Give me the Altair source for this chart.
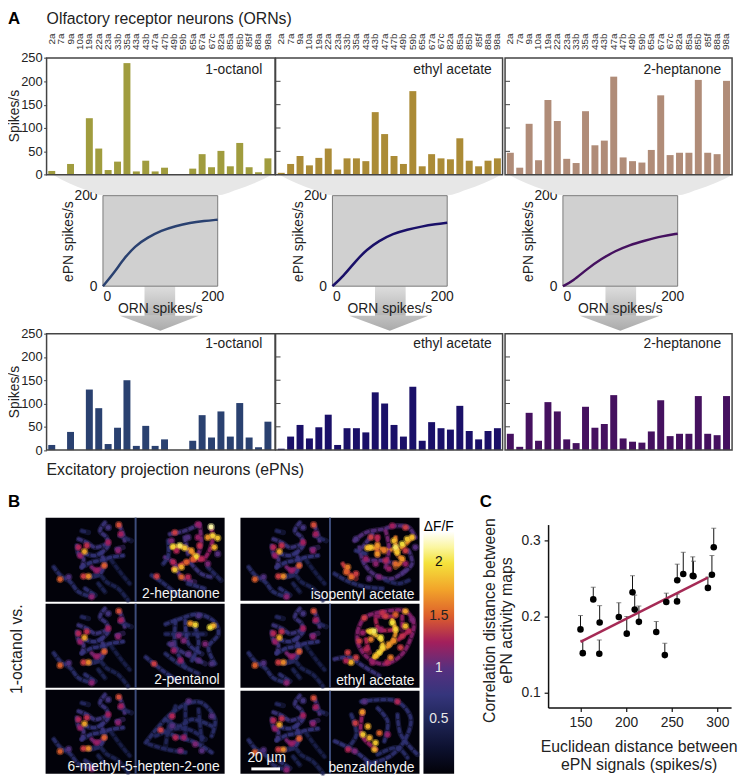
import altair as alt
import pandas as pd

FONT = "Liberation Sans"
W, H = 739, 772
ORN = "2a 7a 9a 10a 19a 22a 23a 33b 35a 43a 43b 47a 47b 49b 59b 65a 67a 67c 82a 85a 85b 85f 88a 98a".split()
ORN_OCT = [8, 0, 23, 0, 121, 56, 10, 28, 239, 7, 30, 7, 15, 1.5, 0, 13, 44, 16, 51, 18, 68, 16, 5, 35]
ORN_ETH = [4, 23, 40, 20, 36, 56, 11, 35, 35, 29, 134, 87, 40, 23, 179, 18, 44, 35, 33, 78, 30, 18, 30, 35]
ORN_HEP = [47, 15, 109, 31, 160, 115, 34, 25, 136, 63, 73, 210, 37, 29, 26, 53, 170, 42, 47, 47, 203, 47, 44, 201]
EPN_OCT = [11, 0, 39, 0, 130, 90, 13, 48, 150, 9, 52, 9, 23, 0, 0, 20, 75, 27, 83, 29, 101, 27, 6, 61]
EPN_ETH = [3, 29, 54, 25, 49, 76, 11, 47, 47, 38, 124, 100, 54, 29, 136, 20, 60, 47, 44, 95, 41, 23, 41, 47]
EPN_HEP = [35, 7, 80, 20, 103, 83, 23, 15, 93, 48, 56, 118, 25, 18, 16, 40, 107, 30, 35, 35, 116, 35, 32, 116]
ODORS = ["1-octanol", "ethyl acetate", "2-heptanone"]
ORN_COLORS = ["#a09c3e", "#ab8b36", "#b08c78"]
EPN_COLORS = ["#2a4170", "#1a1068", "#45115f"]

CURVE_X = [[0, 20, 39, 59, 81, 107, 133, 159, 185, 210],
           [0, 20, 42, 63, 85, 111, 137, 163, 189, 210],
           [0, 18, 44, 70, 96, 122, 148, 183, 210]]
CURVE_Y = [[0, 29, 62, 89, 107, 123, 133, 140, 144, 147],
           [0, 22, 55, 81, 100, 116, 125, 132, 137, 140],
           [0, 11, 38, 60, 78, 91, 100, 111, 116]]

C_X = [150, 152.5, 164, 170.6, 171, 192, 200.7, 207, 209.4, 214, 233, 242.4, 244, 255.8, 256, 262.6, 273, 273.8, 289.6, 294, 296]
C_Y = [.1827, .1515, .2221, .1506, .1918, .1991, .1771, .2316, .2087, .1926, .1792, .1489, .2186, .2195, .2472, .2554, .2532, .2524, .2372, .2545, .2905]
C_E = [.2009, .1684, .2381, .1688, .2139, .2177, .1996, .2532, .2277, .2134, .1931, .1645, .2303, .229, .2684, .284, .278, .2723, .2515, .2797, .3156]
FIT_X = [150, 289.5]
FIT_Y = [.1662, .2506]

CMAP_V = [0, .25, .5, .75, 1, 1.25, 1.5, 1.75, 2, 2.15, 2.3]
CMAP_C = ["#020208", "#0d1130", "#1f2556", "#35357c", "#57307f", "#a31f5c", "#dd5f2c", "#f2a42a", "#f4e23c", "#fbf6a0", "#ffffff"]
HEAT = alt.Scale(domain=CMAP_V, range=CMAP_C, clamp=True)

OCT_LINES = [(.8, [180, 15, 165, 40, 185, 60, 190, 85, 170, 110, 180, 135, 165, 170, 135, 180]),
             (.9, [225, 25, 235, 50, 240, 70]),
             (.6, [110, 40, 130, 45]),
             (.8, [100, 65, 125, 75, 150, 90, 185, 80]),
             (.85, [95, 85, 100, 110, 115, 125, 110, 150]),
             (.75, [110, 150, 140, 135, 165, 130, 200, 120, 235, 115]),
             (.65, [25, 150, 45, 175, 75, 195, 100, 225, 140, 240]),
             (.5, [130, 180, 165, 175, 185, 195, 220, 215, 250, 250]),
             (.9, [215, 95, 235, 90]),
             (1.1, [140, 150, 155, 160, 180, 145]),
             (.5, [160, 200, 180, 225]),
             (.45, [200, 130, 230, 170, 255, 200]),
             (.6, [225, 55, 260, 70]),
             (.75, [120, 110, 150, 115, 170, 105]),
             (.7, [120, 215, 150, 235])]
OCT_BLOBS = [(118, 103, 1.75), (100, 90, 1.3), (125, 85, 1.35), (222, 22, 1.45), (228, 50, 1.25), (178, 145, 1.5),
             (130, 178, 1.65), (115, 178, 1.4), (44, 187, 1.5), (190, 75, 1.25), (140, 240, 1.15), (220, 100, 1.15),
             (155, 160, 1.2), (105, 115, 1.2), (70, 180, .95), (190, 30, .85)]
HEP_LINES = [(.85, [375, 50, 420, 40, 465, 20]),
             (1.1, [465, 20, 470, 75, 460, 115]),
             (1.6, [380, 90, 420, 90, 455, 118]),
             (1.35, [385, 155, 425, 135, 475, 125]),
             (1.0, [360, 120, 385, 135, 410, 180, 450, 195]),
             (.65, [320, 175, 350, 195, 400, 235]),
             (.6, [490, 150, 530, 190]),
             (.8, [440, 140, 470, 170, 500, 180]),
             (1.2, [500, 30, 505, 60, 495, 100, 480, 125]),
             (.7, [370, 70, 370, 115, 355, 140]),
             (.9, [420, 60, 430, 110]),
             (.7, [430, 200, 480, 215])]
HEP_BLOBS = [(500, 28, 2.25), (505, 55, 1.95), (520, 62, 1.9), (490, 60, 1.7), (510, 90, 1.8), (385, 88, 1.95),
             (405, 85, 2.05), (420, 92, 1.9), (440, 100, 1.7), (455, 118, 1.95), (390, 158, 1.9), (410, 150, 1.8),
             (425, 135, 1.5), (445, 125, 1.5), (470, 125, 1.3), (465, 85, 1.35), (460, 60, 1.2), (390, 45, 1.4),
             (395, 100, 1.3), (385, 135, 1.3), (410, 180, 1.5), (430, 180, 1.3), (335, 178, 1.4), (490, 140, 1.1),
             (380, 70, 1.1), (460, 20, 1.2), (430, 60, .95), (520, 110, 1.0)]
PEN_LINES = [(.7, [500, 410, 540, 395, 600, 380, 650, 405, 660, 440, 630, 480, 650, 530]),
             (.8, [510, 470, 560, 500, 620, 530]),
             (.7, [530, 400, 530, 480, 560, 540]),
             (.7, [440, 510, 490, 550, 540, 585]),
             (.7, [590, 420, 600, 470, 580, 520]),
             (.6, [500, 440, 560, 440, 620, 440]),
             (.75, [560, 400, 570, 470, 610, 500]),
             (.65, [500, 500, 540, 530, 600, 560])]
PEN_BLOBS = [(590, 412, 1.95), (575, 408, 1.7), (635, 420, 2), (645, 415, 1.8), (465, 530, 1.4), (545, 520, 1.2),
             (540, 445, 1.1), (525, 490, 1.2), (620, 470, 1.1), (600, 520, 1.0), (555, 460, 1.1), (600, 385, .9),
             (520, 470, 1.0), (570, 500, 1.0), (640, 530, .9)]
MET_LINES = [(.65, [440, 770, 480, 720, 520, 680, 570, 650, 610, 650, 650, 700, 640, 750]),
             (.7, [480, 730, 530, 750, 590, 770, 640, 800]),
             (.6, [450, 775, 500, 790, 560, 800]),
             (.65, [500, 700, 540, 720, 580, 700, 640, 720]),
             (.6, [560, 660, 560, 760]),
             (.6, [600, 670, 610, 770]),
             (.6, [470, 750, 520, 730, 570, 730, 620, 760]),
             (.55, [530, 660, 510, 720, 500, 780])]
MET_BLOBS = [(485, 732, 1.4), (520, 690, 1.3), (530, 755, 1.3), (555, 755, 1.2), (590, 775, 1.1), (520, 720, 1),
             (640, 690, 1), (570, 645, 1), (545, 795, 1.1), (610, 795, 1.0)]
ISO_LINES = [(1.0, [345, 70, 380, 45, 430, 35, 470, 25, 510, 30, 530, 60]),
             (1.65, [385, 90, 430, 95, 480, 95, 520, 60]),
             (1.4, [415, 60, 415, 115]),
             (1.6, [470, 60, 475, 110, 490, 130, 470, 150]),
             (.95, [360, 90, 375, 140, 410, 175, 460, 185, 500, 160]),
             (1.1, [440, 40, 450, 90, 440, 150]),
             (1.4, [310, 140, 330, 170, 350, 185]),
             (.65, [285, 170, 330, 195, 380, 210, 430, 215]),
             (1.0, [380, 130, 430, 130, 470, 140]),
             (.9, [510, 100, 520, 140, 490, 170]),
             (.9, [400, 50, 370, 90]),
             (.75, [350, 100, 380, 110]),
             (.6, [440, 190, 480, 200, 510, 190])]
ISO_BLOBS = [(470, 90, 2.05), (490, 80, 2), (505, 65, 1.9), (520, 60, 1.85), (465, 70, 1.85), (475, 105, 1.9),
             (395, 90, 1.9), (385, 92, 1.85), (415, 85, 1.7), (415, 110, 1.7), (435, 100, 1.6), (490, 125, 1.7),
             (470, 140, 1.55), (500, 100, 1.4), (415, 60, 1.3), (395, 60, 1.4), (500, 30, 1.4), (460, 25, 1.25),
             (325, 150, 1.6), (320, 165, 1.5), (335, 180, 1.55), (350, 170, 1.4), (380, 125, 1.2), (410, 140, 1.15),
             (440, 130, 1.3), (450, 155, 1.2), (350, 65, .9), (420, 180, 1.1), (390, 185, 1.0), (500, 140, 1.2),
             (530, 90, 1.0)]
ETH_LINES = [(1.15, [355, 345, 375, 305, 440, 285, 500, 285, 525, 320, 515, 370, 485, 420, 435, 445, 385, 425, 355, 380, 355, 345]),
             (1.85, [385, 345, 425, 370, 430, 400, 405, 425]),
             (1.7, [460, 310, 470, 350, 450, 390, 430, 400]),
             (1.3, [410, 310, 420, 340, 470, 340]),
             (.8, [285, 430, 330, 425, 370, 450, 420, 480]),
             (1.3, [380, 370, 390, 410]),
             (1.3, [480, 370, 510, 345]),
             (1.2, [410, 300, 470, 300]),
             (1.2, [490, 300, 490, 340])]
ETH_BLOBS = [(405, 345, 2.05), (395, 345, 1.95), (425, 365, 2), (460, 320, 2.0), (470, 340, 1.95), (500, 330, 1.85),
             (430, 395, 1.95), (410, 420, 1.85), (420, 410, 1.95), (450, 385, 1.7), (500, 285, 1.75), (335, 440, 1.8),
             (455, 425, 1.6), (465, 375, 1.65), (395, 370, 1.6), (470, 295, 1.5), (360, 375, 1.4), (440, 300, 1.4),
             (510, 345, 1.3), (375, 305, 1.4), (325, 410, 1.4), (350, 425, 1.4), (485, 395, 1.4), (430, 290, 1.35),
             (425, 340, 1.2), (380, 400, 1.3), (490, 360, 1.35), (370, 350, 1.2), (445, 440, 1.3), (400, 440, 1.2),
             (320, 435, 1.3), (520, 310, 1.1)]
BEN_LINES = [(.7, [390, 600, 430, 595, 500, 600, 540, 650, 520, 720, 470, 770, 400, 790]),
             (.75, [310, 720, 370, 750, 420, 790]),
             (1.2, [395, 630, 390, 700, 435, 745]),
             (.7, [440, 620, 470, 660, 460, 720]),
             (.7, [500, 640, 510, 700, 560, 760]),
             (.65, [360, 640, 375, 700, 350, 740]),
             (.65, [440, 760, 500, 740, 530, 770])]
BEN_BLOBS = [(393, 632, 1.7), (410, 675, 1.8), (395, 700, 1.9), (415, 710, 1.8), (433, 725, 1.9), (430, 745, 1.8),
             (372, 665, 1.4), (445, 695, 1.5), (500, 600, 1.3), (350, 745, 1.3), (470, 700, 1.2), (370, 750, 1.1),
             (400, 600, 1.0)]


def X(field, lo, hi, dlo=None, dhi=None, **kw):
    return alt.X(field, scale=alt.Scale(domain=[lo if dlo is None else dlo, hi if dhi is None else dhi], range=[lo - 8, hi - 8]), **kw)


def Y(field, lo, hi, dlo=None, dhi=None, **kw):
    return alt.Y(field, scale=alt.Scale(domain=[lo if dlo is None else dlo, hi if dhi is None else dhi], range=[lo - 8, hi - 8]), **kw)


ONE = pd.DataFrame({"a": [0]})


def text(s, x, y, size, color="#222222", align="left", angle=0, weight="normal"):
    return alt.Chart(ONE).mark_text(text=s, font=FONT, fontSize=size, color=color, align=align, baseline="middle",
                                    angle=angle, fontWeight=weight).encode(x=alt.value(x - 8), y=alt.value(y - 8))


def rect(x0, x1, y0, y1, **kw):
    return alt.Chart(ONE).mark_rect(**kw).encode(x=alt.value(x0 - 8), x2=alt.value(x1 - 8), y=alt.value(y0 - 8), y2=alt.value(y1 - 8))


def poly(xs, ys, y2s, **kw):
    df = pd.DataFrame({"x": xs, "y": ys, "y2": y2s})
    return alt.Chart(df).mark_area(**kw).encode(
        X("x:Q", 0, W + 8, 0, W + 8, axis=None), Y("y:Q", 0, H + 8, 0, H + 8, axis=None), y2="y2:Q")


layers = []

# grey funnels and arrows between rows
for (l, bl, br, r) in [(53, 104, 220, 275), (282, 336, 452, 507), (514, 569, 685, 741)]:
    xs = [l, l + (bl - l) * .33, l + (bl - l) * .65, bl, br, br + (r - br) * .35, br + (r - br) * .67, r]
    y2 = [172, 181, 187.5, 193, 193, 187.5, 181, 172]
    layers.append(poly(xs, [172] * 8, y2, color="#e7e7e7", interpolate="monotone"))

grad = alt.Gradient(gradient="linear", x1=0, x2=0, y1=0, y2=1,
                    stops=[alt.GradientStop(color="#dedede", offset=0), alt.GradientStop(color="#b4b4b4", offset=1)])
grad2 = alt.Gradient(gradient="linear", x1=0, x2=0, y1=0, y2=1,
                     stops=[alt.GradientStop(color="#c0c0c0", offset=0), alt.GradientStop(color="#aaaaaa", offset=1)])
for (s0, s1, h0, hm, h1) in [(146, 177, 121, 162, 201), (379, 410, 353, 394, 433), (612, 643, 586, 627, 667)]:
    layers.append(rect(s0, s1, 285, 315, color=grad))
    layers.append(poly([h0, hm, h1], [315, 315, 315], [315, 330, 315], color=grad2))


def bars(vals, color, xr, yr, label_axis, y_axis):
    df = pd.DataFrame({"orn": ORN, "v": vals})
    xaxis = alt.Axis(orient="top", offset=-21, domain=False, ticks=False, labelAngle=270, labelAlign="right",
                     labelBaseline="middle", labelFont=FONT, labelFontSize=10, labelColor="#333333", labelPadding=0,
                     labelOverlap=False, title=None) if label_axis else None
    yaxis = alt.Axis(orient="left", values=[0, 50, 100, 150, 200, 250], offset=-(47 - 8), domain=False, tickSize=3, tickColor="#444444",
                     labelFont=FONT, labelFontSize=13, labelColor="#222222", labelPadding=1.5, grid=False, title=None,
                     labelOverlap=False) if y_axis else None
    return alt.Chart(df).mark_bar(color=color).encode(
        x=alt.X("orn:N", sort=ORN, axis=xaxis,
                scale=alt.Scale(domain=ORN, range=[xr[0] - 8, xr[1] - 8], paddingInner=.26, paddingOuter=.18)),
        y=alt.Y("v:Q", axis=yaxis, scale=alt.Scale(domain=[0, 250], range=[yr[0] - 8, yr[1] - 8])))


FRAMES = [(47, 278), (278.5, 508), (510.5, 740)]
XR = [(47, 276), (279, 508), (510.6, 739.6)]
LABEL_R = [265, 497, 729]
for row, (series, colors, yr, axis_on, ty) in enumerate([
    ([ORN_OCT, ORN_ETH, ORN_HEP], ORN_COLORS, (172.3, 54.3), True, 66),
    ([EPN_OCT, EPN_ETH, EPN_HEP], EPN_COLORS, (450.7, 333), False, 344),
]):
    for i in range(3):
        layers.append(bars(series[i], colors[i], XR[i], yr, axis_on, i == 0))
        layers.append(rect(FRAMES[i][0], FRAMES[i][1], yr[1], yr[0], fillOpacity=0, stroke="#444444", strokeWidth=1.5))
        layers.append(text(ODORS[i], LABEL_R[i], ty, 14, align="right"))
        if i > 0:
            dft = pd.DataFrame({"v": [50, 100, 150, 200]})
            layers.append(alt.Chart(dft).mark_rule(color="#444444", strokeWidth=1).encode(
                x=alt.value(FRAMES[i][0] - 8), x2=alt.value(FRAMES[i][0] - 8 + 5),
                y=alt.Y("v:Q", axis=None, scale=alt.Scale(domain=[0, 250], range=[yr[0] - 8, yr[1] - 8]))))

# transfer-function boxes
for i, (x0, x1) in enumerate([(104, 220), (336, 452), (569, 685)]):
    layers.append(rect(x0, x1, 193.5, 285, color="#d0d0d0", stroke="#7a7a7a", strokeWidth=1))
    df = pd.DataFrame({"x": CURVE_X[i], "y": CURVE_Y[i]})
    xa = alt.Axis(values=[0, 200], orient="bottom", offset=-(H - (285 - 8)), domain=False, ticks=False, labelFont=FONT, labelFontSize=14,
                  labelColor="#222222", labelPadding=3, grid=False, title=None)
    ya = alt.Axis(values=[0, 200], orient="left", offset=-(x0 - 8), domain=False, ticks=False, labelFont=FONT, labelFontSize=14,
                  labelColor="#222222", labelPadding=6, grid=False, title=None)
    layers.append(alt.Chart(df).mark_line(color=EPN_COLORS[i], strokeWidth=2.5, interpolate="basis").encode(
        x=alt.X("x:Q", axis=xa, scale=alt.Scale(domain=[0, 210], range=[x0 - 8, x1 - 8])),
        y=alt.Y("y:Q", axis=ya, scale=alt.Scale(domain=[0, 200], range=[285 - 8, 193.5 - 8]))))
    layers.append(text("ORN spikes/s", (x0 + x1) / 2, 308, 14, align="center"))
    layers.append(text("ePN spikes/s", x0 - 34, 240, 14, align="center", angle=270))

layers.append(text("A", 8, 15, 17, color="#000000", weight="bold"))
layers.append(text("Olfactory receptor neurons (ORNs)", 47, 15, 16))
layers.append(text("Excitatory projection neurons (ePNs)", 47, 471, 16))
layers.append(text("Spikes/s", 15, 113, 14, align="center", angle=270))
layers.append(text("Spikes/s", 15, 392, 14, align="center", angle=270))
layers.append(text("B", 8, 503, 17, color="#000000", weight="bold"))
layers.append(text("C", 485, 503, 17, color="#000000", weight="bold"))
layers.append(text("1-octanol vs.", 17, 652, 16, align="center", angle=270))


def heat(lines, blobs, ox, oy, px0, py0):
    xsc = dict(scale=alt.Scale(domain=[ox, ox + 268], range=[px0 - 8, px0 + 89.3 - 8]), axis=None)
    ysc = dict(scale=alt.Scale(domain=[oy, oy + 254], range=[py0 - 8, py0 + 84.7 - 8]), axis=None)
    rows = []
    for n, (v, pts) in enumerate(lines):
        for k in range(0, len(pts), 2):
            rows.append({"id": n, "o": k, "x": pts[k], "y": pts[k + 1], "v": v})
    ldf = pd.DataFrame(rows)
    bdf = pd.DataFrame(blobs, columns=["x", "y", "v"]).sort_values("v")
    enc = dict(x=alt.X("x:Q", **xsc), y=alt.Y("y:Q", **ysc), color=alt.Color("v:Q", scale=HEAT, legend=None))
    out = []
    for width, op, dash in [(5.5, .42, [1, 0]), (3.2, .8, [3, 4])]:
        out.append(alt.Chart(ldf).mark_line(strokeWidth=width, opacity=op, strokeDash=dash, strokeCap="round", strokeJoin="round",
                                            interpolate="catmull-rom").encode(detail="id:N", order="o:Q", **enc))
    out.append(alt.Chart(bdf).mark_circle(size=60, opacity=.45).encode(**enc))
    out.append(alt.Chart(bdf).mark_circle(size=22, opacity=.9).encode(**enc))
    return out


PANELS = [(46, 519, 604, 137, HEP_LINES, HEP_BLOBS, 274, 0, "2-heptanone", 222, 596),
          (46, 606, 691, 137, PEN_LINES, PEN_BLOBS, 412, 348, "2-pentanol", 222, 683),
          (46, 693, 778, 137, MET_LINES, MET_BLOBS, 412, 610, "6-methyl-5-hepten-2-one", 222, 771),
          (243, 519, 603, 333.5, ISO_LINES, ISO_BLOBS, 274, 0, "isopentyl acetate", 419, 597),
          (243, 606, 691, 333.5, ETH_LINES, ETH_BLOBS, 274, 262, "ethyl acetate", 419, 684),
          (243, 694, 778, 333.5, BEN_LINES, BEN_BLOBS, 298, 567, "benzaldehyde", 419, 772)]
for (x0, y0, y1, xm, lines, blobs, ox, oy, name, tx, ty) in PANELS:
    layers.append(rect(x0, x0 + 181, y0, y1, color="#02020a"))
    layers += heat(OCT_LINES, OCT_BLOBS, 0, 0, x0, y0)
    layers += heat(lines, blobs, ox, oy, xm + 1, y0)
    layers.append(rect(xm - 1, xm + 1, y0, y1, color="#3d4c7a"))
    layers.append(text(name, tx, ty, 14, color="#f2f2f2", align="right"))

layers.append(text("20 µm", 250, 762, 14, color="#f2f2f2"))
layers.append(rect(254, 283, 771.5, 774.5, color="#ffffff"))

# colour bar
STOP_OFFS = [1 - v / 2.3 for v in CMAP_V][::-1]
cbar = alt.Gradient(gradient="linear", x1=0, x2=0, y1=0, y2=1,
                    stops=[alt.GradientStop(color=c, offset=o) for c, o in zip(CMAP_C[::-1], STOP_OFFS)])
layers.append(rect(428, 459, 533, 778, color=cbar))
layers.append(text("ΔF/F", 443.5, 528, 14, color="#000000", align="center"))
for lab, yy, col in [("2", 564, "#111111"), ("1.5", 618, "#222222"), ("1", 671, "#e8e8e8"), ("0.5", 723, "#e8e8e8")]:
    layers.append(text(lab, 443.5, yy, 14, color=col, align="center"))

# panel C
cx = alt.Scale(domain=[114.5, 315], range=[554 - 8, 739 - 8])
cy = alt.Scale(domain=[.08, .3204], range=[711 - 8, 526 - 8])
cdf = pd.DataFrame({"x": C_X, "y": C_Y, "e": C_E})
xax = alt.Axis(values=[150, 200, 250, 300], orient="bottom", offset=-(H - (711 - 8)), domainColor="#111111", domainWidth=1.5,
               tickColor="#111111", tickWidth=1.2, tickSize=4, labelFont=FONT, labelFontSize=14, labelColor="#222222", labelPadding=4, grid=False, title=None)
yax = alt.Axis(values=[.1, .2, .3], format=".1f", orient="left", offset=-(554 - 8), domainColor="#111111", domainWidth=1.5,
               tickColor="#111111", tickWidth=1.2, tickSize=4, labelFont=FONT, labelFontSize=14, labelColor="#222222", labelPadding=4, grid=False, title=None)
layers.append(alt.Chart(cdf).mark_rule(color="#111111", strokeWidth=1).encode(
    x=alt.X("x:Q", scale=cx, axis=xax), y=alt.Y("y:Q", scale=cy, axis=yax), y2="e:Q"))
layers.append(alt.Chart(cdf).mark_tick(color="#555555", thickness=1, size=5, orient="horizontal").encode(
    x=alt.X("x:Q", scale=cx, axis=None), y=alt.Y("e:Q", scale=cy, axis=None)))
layers.append(alt.Chart(pd.DataFrame({"x": FIT_X, "y": FIT_Y})).mark_line(color="#a52a55", strokeWidth=2.5).encode(
    x=alt.X("x:Q", scale=cx, axis=None), y=alt.Y("y:Q", scale=cy, axis=None)))
layers.append(alt.Chart(cdf).mark_circle(color="#000000", size=44, opacity=1).encode(
    x=alt.X("x:Q", scale=cx, axis=None), y=alt.Y("y:Q", scale=cy, axis=None)))
layers.append(text("Correlation distance between", 495, 623, 16, align="center", angle=270))
layers.append(text("ePN activity maps", 513, 623, 16, align="center", angle=270))
layers.append(text("Euclidean distance between", 646, 751, 16, align="center"))
layers.append(text("ePN signals (spikes/s)", 646, 769, 16, align="center"))

chart = alt.layer(*layers).resolve_scale(x="independent", y="independent").properties(
    width=W, height=H, padding=0, autosize=alt.AutoSizeParams(type="none", contains="padding")
).configure_view(stroke=None)

chart.save("out.html", embed_options={"renderer": "svg", "actions": False})
